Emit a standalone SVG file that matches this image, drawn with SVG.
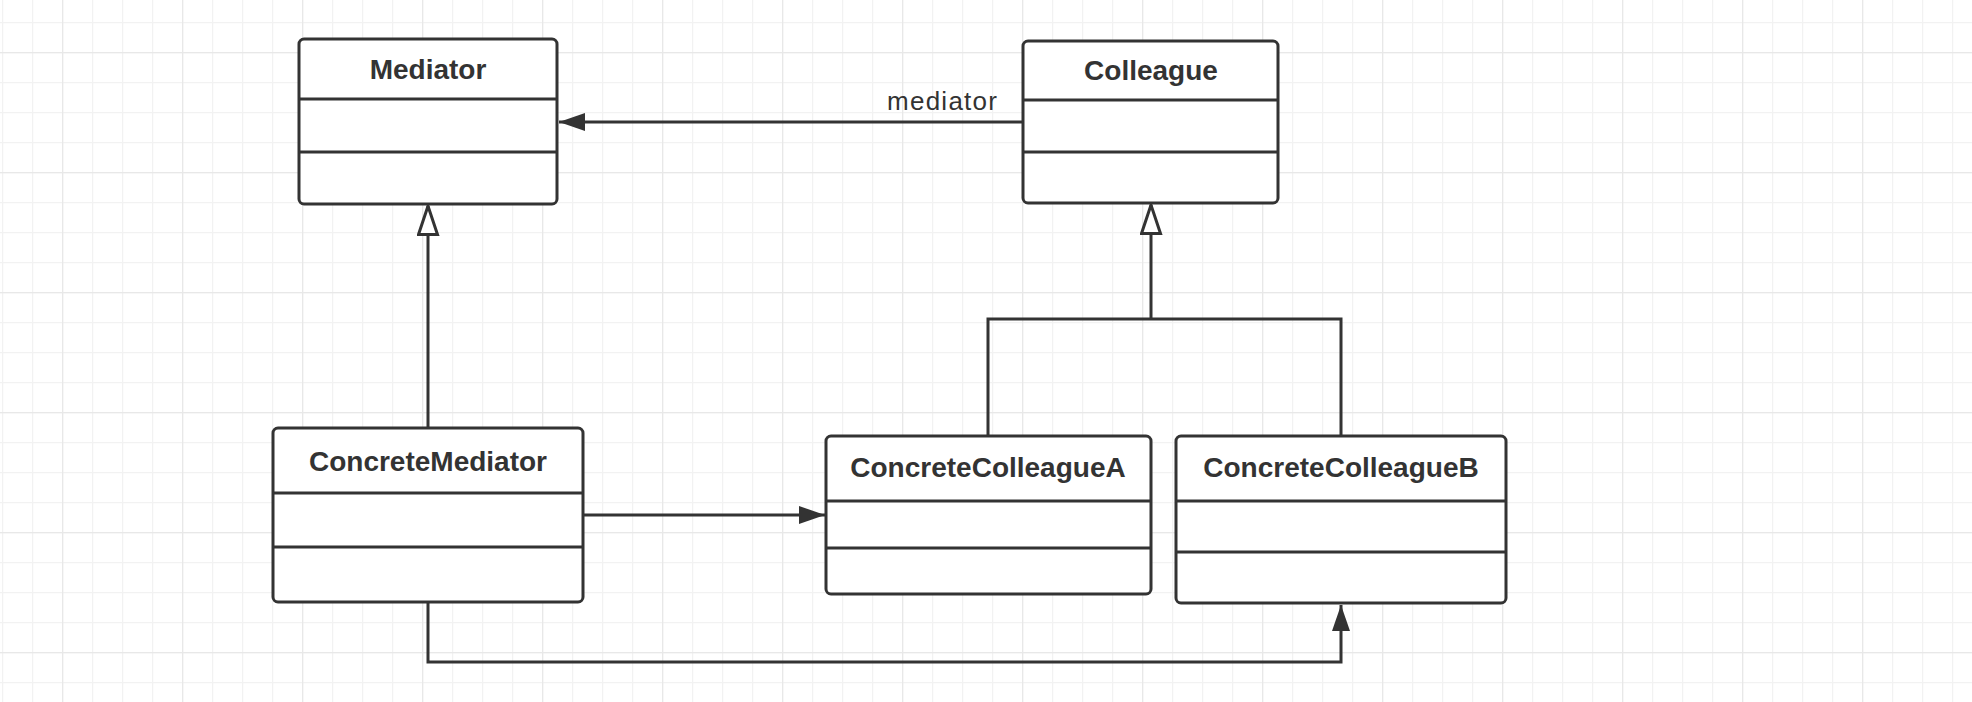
<svg xmlns="http://www.w3.org/2000/svg" width="1972" height="702" viewBox="0 0 1972 702">
<style>
.box{fill:#ffffff;stroke:#333333;stroke-width:3}
.div{stroke:#333333;stroke-width:3;fill:none}
.title{font-family:"Liberation Sans",Arial,sans-serif;font-weight:bold;font-size:28px;fill:#333333;text-anchor:middle}
.lbl{font-family:"Liberation Sans",Arial,sans-serif;font-size:26px;fill:#333333}
.edge{stroke:#333333;stroke-width:3;fill:none}
</style>
<defs>
<pattern id="gridS" patternUnits="userSpaceOnUse" x="2" y="22" width="30" height="30">
<path d="M0.5 0V30M0 0.5H30" stroke="#f2f2f2" stroke-width="1.5" fill="none"/>
</pattern>
<pattern id="gridL" patternUnits="userSpaceOnUse" x="62" y="52" width="120" height="120">
<path d="M0.5 0V120M0 0.5H120" stroke="#e8e8e8" stroke-width="1.5" fill="none"/>
</pattern>
<marker id="filled" markerUnits="userSpaceOnUse" markerWidth="30" markerHeight="20" refX="26" refY="9" orient="auto">
<path d="M0 0L26 9L0 18Z" fill="#333333"/>
</marker>
<marker id="hollow" markerUnits="userSpaceOnUse" markerWidth="34" markerHeight="26" refX="30" refY="11" orient="auto">
<path d="M1.5 1.5L30 11L1.5 20.5Z" fill="#ffffff" stroke="#333333" stroke-width="3"/>
</marker>
</defs>
<rect width="1972" height="702" fill="#ffffff"/>
<rect width="1972" height="702" fill="url(#gridS)"/>
<rect width="1972" height="702" fill="url(#gridL)"/>

<g id="connectors">
<path class="edge" d="M1023 122H559" marker-end="url(#filled)"/>
<text class="lbl" x="887" y="110" textLength="110" lengthAdjust="spacing">mediator</text>
<path class="edge" d="M428 428V206" marker-end="url(#hollow)"/>
<path class="edge" d="M988 436V319H1341V436"/>
<path class="edge" d="M1151 319V205" marker-end="url(#hollow)"/>
<path class="edge" d="M583 515H825" marker-end="url(#filled)"/>
<path class="edge" d="M428 602V662H1341V605" marker-end="url(#filled)"/>
</g>

<g id="Mediator">
<rect class="box" x="299" y="39" width="258" height="165" rx="5"/>
<path class="div" d="M299 99H557M299 152H557"/>
<text class="title" x="428" y="79">Mediator</text>
</g>

<g id="Colleague">
<rect class="box" x="1023" y="41" width="255" height="162" rx="5"/>
<path class="div" d="M1023 100H1278M1023 152H1278"/>
<text class="title" x="1151" y="80">Colleague</text>
</g>

<g id="ConcreteMediator">
<rect class="box" x="273" y="428" width="310" height="174" rx="5"/>
<path class="div" d="M273 493H583M273 547H583"/>
<text class="title" x="428" y="471">ConcreteMediator</text>
</g>

<g id="ConcreteColleagueA">
<rect class="box" x="826" y="436" width="325" height="158" rx="5"/>
<path class="div" d="M826 501H1151M826 548H1151"/>
<text class="title" x="988" y="477">ConcreteColleagueA</text>
</g>

<g id="ConcreteColleagueB">
<rect class="box" x="1176" y="436" width="330" height="167" rx="5"/>
<path class="div" d="M1176 501H1506M1176 552H1506"/>
<text class="title" x="1341" y="477">ConcreteColleagueB</text>
</g>
</svg>
